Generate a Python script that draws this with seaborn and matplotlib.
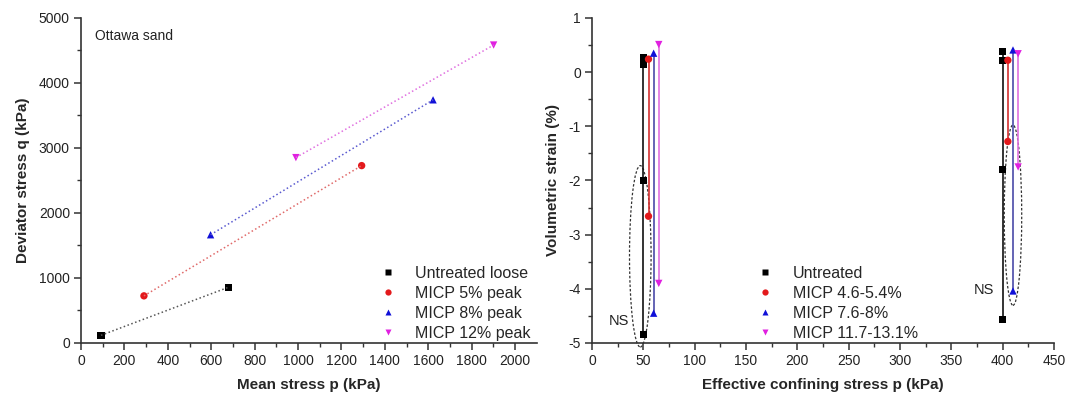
import matplotlib
matplotlib.use("Agg")
import matplotlib.pyplot as plt
from matplotlib.patches import Ellipse
import seaborn as sns
import pandas as pd

# ---------------- data: left panel (q-p) ----------------
left_series = ["Untreated loose", "MICP 5% peak", "MICP 8% peak", "MICP 12% peak"]
p_untreated = [92, 680]
q_untreated = [118, 858]
p_micp5 = [290, 1293]
q_micp5 = [725, 2729]
p_micp8 = [597, 1622]
q_micp8 = [1665, 3741]
p_micp12 = [990, 1901]
q_micp12 = [2852, 4584]

# ---------------- data: right panel (volumetric strain) ----------------
right_series = ["Untreated", "MICP 4.6-5.4%", "MICP 7.6-8%", "MICP 11.7-13.1%"]
pc_untreated = [50, 50, 50, 50, 400, 400, 400, 400]
ev_untreated = [0.26, 0.136, -2.0, -4.84, 0.38, 0.22, -1.80, -4.57]
pc_micp5 = [55, 55, 405, 405]
ev_micp5 = [0.24, -2.66, 0.22, -1.28]
pc_micp8 = [60, 60, 410, 410]
ev_micp8 = [0.35, -4.45, 0.41, -4.04]
pc_micp12 = [65, 65, 415, 415]
ev_micp12 = [0.51, -3.90, 0.34, -1.75]

marker_colors = ["#000000", "#e3191c", "#1010d8", "#e020e0"]
dot_line_colors = ["#555555", "#e06a6a", "#5a5ad0", "#e070e0"]
solid_line_colors = ["#111111", "#d43030", "#4a4aa8", "#e070e0"]
marker_shapes = ["s", "o", "^", "v"]

left_df = pd.concat([
    pd.DataFrame({"p": p, "q": q, "series": s})
    for p, q, s in zip([p_untreated, p_micp5, p_micp8, p_micp12],
                       [q_untreated, q_micp5, q_micp8, q_micp12], left_series)
], ignore_index=True)

right_df = pd.concat([
    pd.DataFrame({"p": p, "ev": e, "series": s})
    for p, e, s in zip([pc_untreated, pc_micp5, pc_micp8, pc_micp12],
                       [ev_untreated, ev_micp5, ev_micp8, ev_micp12], right_series)
], ignore_index=True)
right_df["grp"] = (right_df["p"] > 200).astype(int)

sns.set_theme(style="ticks")
plt.rcParams["font.family"] = ["Liberation Sans", "DejaVu Sans"]
plt.rcParams["axes.unicode_minus"] = False
plt.rcParams["axes.edgecolor"] = "#333333"
plt.rcParams["xtick.color"] = "#333333"
plt.rcParams["ytick.color"] = "#333333"
plt.rcParams["xtick.labelcolor"] = "#222222"
plt.rcParams["ytick.labelcolor"] = "#222222"

fig = plt.figure(figsize=(10.70, 3.99), dpi=100)
axL = fig.add_axes([0.0757, 0.1404, 0.426, 0.8145])
axR = fig.add_axes([0.5533, 0.1404, 0.4318, 0.8145])

# ---------------- left panel ----------------
sns.lineplot(data=left_df, x="p", y="q", hue="series", palette=dot_line_colors,
             hue_order=left_series, estimator=None, sort=False, legend=False,
             linestyle=":", linewidth=1.1, ax=axL)
sns.scatterplot(data=left_df, x="p", y="q", hue="series", style="series",
                hue_order=left_series, style_order=left_series,
                palette=marker_colors, markers=marker_shapes, s=28,
                edgecolor="none", ax=axL)

axL.set_xlim(0, 2100)
axL.set_ylim(0, 5000)
axL.set_xticks(range(0, 2001, 200))
axL.set_xticks(range(100, 2100, 200), minor=True)
axL.set_yticks(range(0, 5001, 1000))
axL.set_yticks(range(500, 5000, 1000), minor=True)
axL.set_xlabel("Mean stress p (kPa)", fontsize=11, fontweight="bold", labelpad=7)
axL.set_ylabel("Deviator stress q (kPa)", fontsize=11, fontweight="bold", labelpad=6)
axL.text(0.031, 0.945, "Ottawa sand", transform=axL.transAxes, fontsize=10,
         va="center", ha="left", color="#222222")
h, l = axL.get_legend_handles_labels()
axL.legend(h, l, loc="lower left", bbox_to_anchor=(0.655, 0.006), frameon=False,
           fontsize=11.5, handlelength=1.0, handletextpad=1.25, labelspacing=0.32,
           borderpad=0, borderaxespad=0, markerscale=0.85)

# ---------------- right panel ----------------
sns.lineplot(data=right_df, x="p", y="ev", hue="series", units="grp",
             palette=solid_line_colors, hue_order=right_series, estimator=None,
             sort=False, legend=False, linewidth=1.2, ax=axR)
sns.scatterplot(data=right_df, x="p", y="ev", hue="series", style="series",
                hue_order=right_series, style_order=right_series,
                palette=marker_colors, markers=marker_shapes, s=28,
                edgecolor="none", zorder=3, ax=axR)

axR.add_patch(Ellipse((47, -3.40), 21, 3.35, fill=False, linestyle=(0, (2, 1.5)),
                      edgecolor="#333333", linewidth=0.9, clip_on=False))
axR.add_patch(Ellipse((410, -2.64), 17, 3.33, fill=False, linestyle=(0, (2, 1.5)),
                      edgecolor="#333333", linewidth=0.9))
axR.text(26.5, -4.59, "NS", fontsize=10.5, ha="center", va="center", color="#222222")
axR.text(382, -4.03, "NS", fontsize=10.5, ha="center", va="center", color="#222222")

axR.set_xlim(0, 450)
axR.set_ylim(-5, 1)
axR.set_xticks(range(0, 451, 50))
axR.set_xticks(range(25, 450, 50), minor=True)
axR.set_yticks(range(-5, 2, 1))
axR.set_yticks([-4.5, -3.5, -2.5, -1.5, -0.5, 0.5], minor=True)
axR.set_xlabel("Effective confining stress p (kPa)", fontsize=11, fontweight="bold", labelpad=7)
axR.set_ylabel("Volumetric strain (%)", fontsize=11, fontweight="bold", labelpad=6)
h, l = axR.get_legend_handles_labels()
axR.legend(h, l, loc="lower left", bbox_to_anchor=(0.357, 0.006), frameon=False,
           fontsize=11.5, handlelength=1.0, handletextpad=1.25, labelspacing=0.32,
           borderpad=0, borderaxespad=0, markerscale=0.85)

for ax in (axL, axR):
    sns.despine(ax=ax)
    ax.spines["left"].set_linewidth(1.2)
    ax.spines["bottom"].set_linewidth(1.2)
    ax.tick_params(which="major", direction="out", length=5, width=1.1, labelsize=10, pad=3)
    ax.tick_params(which="minor", direction="out", length=3, width=1.0)

fig.savefig("out.png", dpi=100)
